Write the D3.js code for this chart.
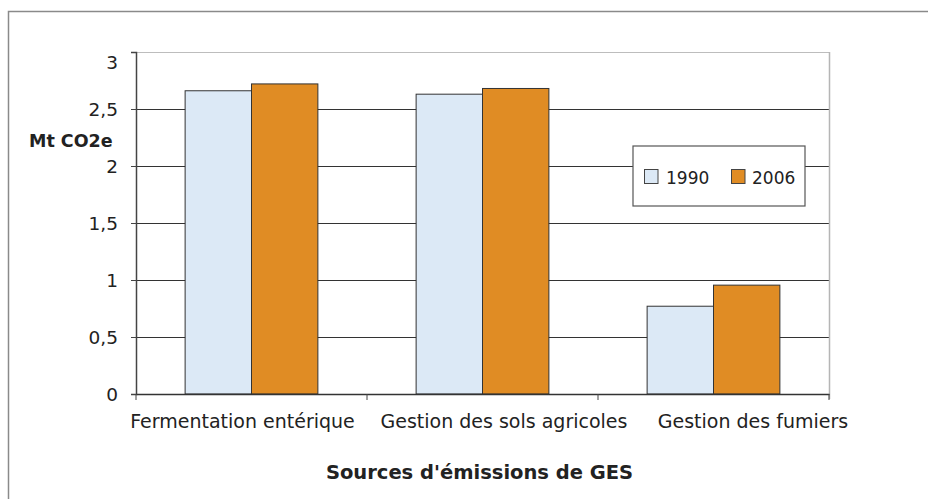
<!DOCTYPE html>
<html>
<head>
<meta charset="utf-8">
<script src="https://cdn.jsdelivr.net/npm/d3@7"></script>
<style>
  html, body { margin: 0; padding: 0; background: #fff; }
  svg { display: block; }
  text { font-family: "DejaVu Sans", sans-serif; fill: #222; }
</style>
</head>
<body>
<svg id="chart" width="928" height="499"></svg>
<script>
const categories = ["Fermentation entérique", "Gestion des sols agricoles", "Gestion des fumiers"];
const seriesNames = ["1990", "2006"];
const values1990 = [2.66, 2.63, 0.77];
const values2006 = [2.72, 2.68, 0.955];
const yTicks = [0, 0.5, 1, 1.5, 2, 2.5, 3];
const yTickLabels = ["0", "0,5", "1", "1,5", "2", "2,5", "3"];
const colors = ["#dce9f6", "#e08c24"];

const svg = d3.select("#chart");
const m = { left: 136, top: 52, right: 829, bottom: 394 };

// outer frame
svg.append("path")
  .attr("d", `M8.5,499 L8.5,11.5 L928,11.5`)
  .attr("fill", "none").attr("stroke", "#8a8a8a").attr("stroke-width", 1.5);

const x0 = d3.scaleBand().domain(categories).range([m.left, m.right]).paddingInner(0).paddingOuter(0);
const x1 = d3.scaleBand().domain(seriesNames).range([0, x0.bandwidth()]).paddingInner(0).paddingOuter(0.74);
const y = d3.scaleLinear().domain([0, 3]).range([m.bottom, m.top]);
// category label positions (labels are spread wider than the bands in the original)
const xLabel = d3.scaleOrdinal().domain(categories).range([242.5, 504, 753]);

// gridlines
svg.append("g").selectAll("line").data(yTicks.filter(d => d > 0)).join("line")
  .attr("x1", m.left).attr("x2", m.right)
  .attr("y1", d => Math.round(y(d)) + 0.5).attr("y2", d => Math.round(y(d)) + 0.5)
  .attr("stroke", d => d === 3 ? "#bdbdbd" : "#333").attr("stroke-width", 1);

// right plot border
svg.append("line").attr("x1", m.right + 0.5).attr("x2", m.right + 0.5)
  .attr("y1", m.top).attr("y2", m.bottom + 5)
  .attr("stroke", "#b5b5b5").attr("stroke-width", 1.5);

// bars
const data = categories.map((c, i) => ({ c, vals: [values1990[i], values2006[i]] }));
const g = svg.append("g").selectAll("g").data(data).join("g")
  .attr("transform", d => `translate(${x0(d.c)},0)`);
g.selectAll("rect").data(d => d.vals.map((v, j) => ({ v, s: seriesNames[j], j }))).join("rect")
  .attr("x", d => x1(d.s))
  .attr("width", x1.bandwidth())
  .attr("y", d => y(d.v))
  .attr("height", d => y(0) - y(d.v))
  .attr("fill", d => colors[d.j])
  .attr("stroke", "#333").attr("stroke-width", 1);

// y axis
const yAxis = svg.append("g").attr("transform", `translate(${m.left},0)`)
  .call(d3.axisLeft(y).tickValues(yTicks).tickFormat((d, i) => yTickLabels[i]).tickSize(5).tickPadding(13));
yAxis.select(".domain").attr("stroke", "#444").attr("stroke-width", 1.5);
yAxis.selectAll(".tick line").attr("stroke", "#444");
yAxis.selectAll("text").style("font-size", "18.5px").attr("fill", "#222")
  .attr("dy", d => d === 3 ? "0.9em" : "0.34em");

// x axis
const xAxis = svg.append("g").attr("transform", `translate(0,${m.bottom})`)
  .call(d3.axisBottom(x0).tickSize(0).tickFormat(() => ""));
xAxis.select(".domain").attr("stroke", "#333").attr("stroke-width", 1.5);
svg.append("g").selectAll("text").data(categories).join("text")
  .attr("x", d => xLabel(d)).attr("y", 427.5).attr("text-anchor", "middle")
  .style("font-size", "19px").text(d => d);
// category boundary ticks
svg.append("g").selectAll("line").data(categories.concat(["end"])).join("line")
  .attr("x1", (d, i) => i < categories.length ? x0(d) : m.right)
  .attr("x2", (d, i) => i < categories.length ? x0(d) : m.right)
  .attr("y1", m.bottom).attr("y2", m.bottom + 6)
  .attr("stroke", "#444");

// axis titles
svg.append("text").attr("x", 29).attr("y", 146.5).text("Mt CO2e")
  .style("font-size", "17.5px").style("font-weight", "bold");
svg.append("text").attr("x", 479.5).attr("y", 479).attr("text-anchor", "middle")
  .text("Sources d'émissions de GES").style("font-size", "19.5px").style("font-weight", "bold");

// legend
const lg = svg.append("g");
lg.append("rect").attr("x", 633).attr("y", 146).attr("width", 172).attr("height", 60)
  .attr("fill", "#fff").attr("stroke", "#555").attr("stroke-width", 1.2);
const items = [{ n: seriesNames[0], sx: 644.5, tx: 666 }, { n: seriesNames[1], sx: 731.5, tx: 752 }];
items.forEach((it, j) => {
  lg.append("rect").attr("x", it.sx).attr("y", 169.5).attr("width", 13.5).attr("height", 14)
    .attr("fill", colors[j]).attr("stroke", "#444").attr("stroke-width", 1);
  lg.append("text").attr("x", it.tx).attr("y", 184).text(it.n).style("font-size", "17px");
});
</script>
</body>
</html>
